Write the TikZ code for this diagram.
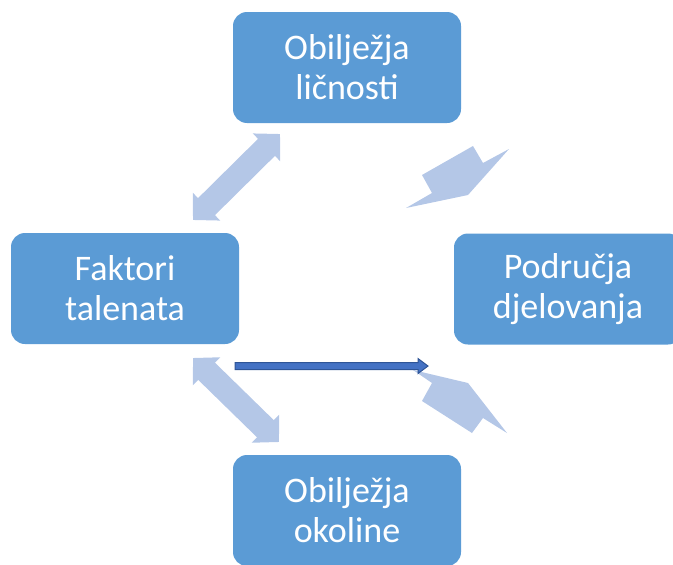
\documentclass[tikz,border=0pt]{standalone}
\usepackage{fontspec}
\setmainfont{Carlito}
\usetikzlibrary{arrows.meta,calc}

\definecolor{boxblue}{HTML}{5B9BD5}
\definecolor{arrowlight}{HTML}{B4C7E7}
\definecolor{arrowdark}{HTML}{2F5597}
\definecolor{arrowmid}{HTML}{4472C4}

\begin{document}
\begin{tikzpicture}[
    x=1pt, y=-1pt,
    % Define styles
    box/.style={
        rectangle,
        rounded corners=14pt,
        fill=boxblue,
        text=white,
        minimum width=228pt,
        minimum height=111pt,
        inner sep=0pt,
        align=center,
        font=\fontsize{36}{40}\selectfont
    },
    twoway/.style={
        draw=arrowlight,
        line width=24pt,
        {Triangle[width=38pt,length=19pt]}-{Triangle[width=38pt,length=19pt]}
    },
    blockarrow/.style={
        fill=arrowlight
    },
    flow/.style={
        draw=arrowdark,
        fill=arrowmid,
        line width=1pt,
        line join=miter
    }
]
    \useasboundingbox (0,0) rectangle (673,565);
    \clip (0,0) rectangle (673,565);

    % --- Boxes ---
    \node[box] (licnost)  at (347,67.5)  {Obilježja\\ličnosti};
    \node[box] (faktori)  at (125,288.5) {Faktori\\talenata};
    \node[box] (podrucja) at (568,289)   {Područja\\djelovanja};
    \node[box] (okolina)  at (347,510.5) {Obilježja\\okoline};

    % --- Double arrows on the left ---
    \coordinate (t1) at (193,220);
    \coordinate (t2) at (280,134);
    \coordinate (b1) at (193,358);
    \coordinate (b2) at (279,442);
    \draw[twoway] (t1) -- (t2);
    \draw[twoway] (b1) -- (b2);

    % --- Block arrows on the right ---
    \fill[blockarrow] (406,208) -- (432,193) -- (422,175) -- (473,146)
        -- (483,163) -- (509,149) -- (468,195) -- cycle;
    \fill[blockarrow] (413,370) -- (468,383) -- (507,433) -- (483,418)
        -- (472,433) -- (422,401) -- (432,383) -- cycle;

    % --- Dark arrow ---
    \coordinate (fa) at (235,366);
    \coordinate (fb) at (428,366);
    \draw[flow] ($(fa)+(0,-3.5)$) -- ($(fb)+(-10,-3.5)$) -- ($(fb)+(-10,-7.5)$)
        -- (fb) -- ($(fb)+(-10,7.5)$) -- ($(fb)+(-10,3.5)$)
        -- ($(fa)+(0,3.5)$) -- cycle;

\end{tikzpicture}
\end{document}
